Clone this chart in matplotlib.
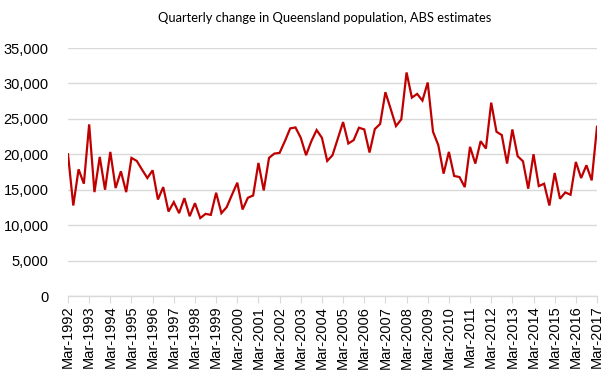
import matplotlib
matplotlib.use("Agg")
import matplotlib.pyplot as plt
from matplotlib.ticker import FuncFormatter, FixedLocator

title = "Quarterly change in Queensland population, ABS estimates"
years = list(range(1992, 2018))
tick_labels = [f"Mar-{y}" for y in years]

values = [
    20000, 12770, 17880, 15850, 24220, 14660, 19630, 15000, 20340, 15230,
    17600, 14660, 19490, 19060, 17830, 16650, 17740, 13620, 15370, 11920,
    13250, 11690, 13810, 11260, 13100, 11000, 11590, 11450, 14570, 11690,
    12540, 14290, 15990, 12210, 13860, 14190, 18780, 14900, 19490, 20100,
    20200, 21850, 23650, 23790, 22330, 19870, 21850, 23420, 22330, 19060,
    19870, 22200, 24550, 21520, 22000, 23750, 23510, 20250, 23560, 24270,
    28760, 26400, 23980, 24930, 31550, 28000, 28520, 27580, 30130, 23180,
    21290, 17270, 20340, 16940, 16790, 15370, 21050, 18690, 21850, 20810,
    27290, 23180, 22710, 18690, 23510, 19730, 19020, 15140, 20010, 15510,
    15850, 12770, 17360, 13720, 14620, 14290, 18920, 16650, 18450, 16320,
    23890,
]

fig = plt.figure(figsize=(6.13, 3.79), dpi=100)
ax = fig.add_axes([68/613, (379-296)/379, (597-68)/613, (296-48)/379])

x = list(range(len(values)))
ax.plot(x, values, color="#C00000", lw=1.6, solid_joinstyle="miter")

ax.set_xlim(0, len(values) - 1)
ax.set_ylim(0, 35000)
ax.set_yticks(range(0, 35001, 5000))
ax.yaxis.set_major_formatter(FuncFormatter(lambda v, p: f"{int(v):,}"))
ax.xaxis.set_major_locator(FixedLocator([i * 4 for i in range(len(years))]))
ax.set_xticklabels(tick_labels, rotation=90)

ax.grid(axis="y", color="#D9D9D9", lw=1)
ax.set_axisbelow(True)
for s in ["left", "right", "top"]:
    ax.spines[s].set_visible(False)
ax.spines["bottom"].set_color("#D9D9D9")
ax.spines["bottom"].set_linewidth(1)
ax.tick_params(axis="y", length=0, pad=14, labelsize=10.5, labelcolor="#000000")
ax.tick_params(axis="x", length=5, color="#D9D9D9", pad=2, labelsize=10.5)
for lab in ax.get_xticklabels() + ax.get_yticklabels():
    lab.set_fontfamily("Liberation Sans")

fig.text(325/613, 1 - 18/379, title, ha="center", va="center",
         fontsize=9.3, family="Lato")

fig.savefig("out.png", dpi=100)
